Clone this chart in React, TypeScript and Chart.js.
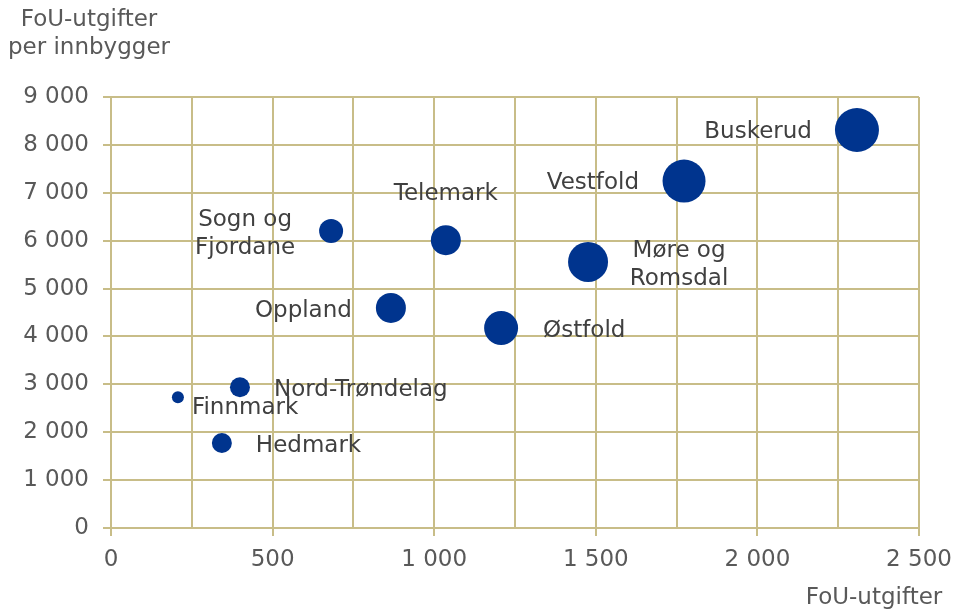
import React, { useEffect, useRef } from "react";
import { Chart, registerables } from "chart.js";

Chart.register(...registerables);

const regions = [
  "Finnmark",
  "Nord-Trøndelag",
  "Hedmark",
  "Sogn og\nFjordane",
  "Oppland",
  "Telemark",
  "Østfold",
  "Møre og\nRomsdal",
  "Vestfold",
  "Buskerud",
];
const fouUtgifter = [207, 399, 343, 681, 866, 1036, 1207, 1476, 1773, 2308];
const fouPerInnbygger = [2730, 2940, 1775, 6200, 4595, 6010, 4175, 5555, 7245, 8310];
const bubbleSize = [6, 10, 10, 12, 15, 15, 17, 20, 21.5, 22];

// label placement: align, dx, dy (pixels relative to bubble centre)
const labelPlacement: [CanvasTextAlign, number, number][] = [
  ["left", 14, 11],
  ["left", 34, 3],
  ["left", 34, 3],
  ["center", -86, 3],
  ["right", -39, 3],
  ["center", 0, -46],
  ["left", 42, 3],
  ["center", 91, 3],
  ["right", -45, 2],
  ["right", -45, 2],
];

const FONT = "'DejaVu Sans', Verdana, sans-serif";
const FS = 23;
const GRID = "#C8BD88";
const TICK_COLOR = "#595959";
const LABEL_COLOR = "#404040";
const BUBBLE = "#00348E";

const fmt = (v: number) => {
  const s = Math.round(v).toString();
  return s.replace(/\B(?=(\d{3})+(?!\d))/g, " ");
};

const labelPlugin = {
  id: "labels",
  afterDatasetsDraw(chart: any) {
    const ctx = chart.ctx;
    const meta = chart.getDatasetMeta(0);
    ctx.save();
    ctx.font = `${FS}px ${FONT}`;
    ctx.fillStyle = LABEL_COLOR;
    ctx.textBaseline = "middle";
    meta.data.forEach((el: any, i: number) => {
      const [align, dx, dy] = labelPlacement[i];
      const lines = regions[i].split("\n");
      ctx.textAlign = align;
      const lh = 28;
      const y0 = el.y + dy - ((lines.length - 1) * lh) / 2;
      lines.forEach((ln, j) => ctx.fillText(ln, el.x + dx, y0 + j * lh));
    });
    ctx.restore();
  },
  afterDraw(chart: any) {
    const ctx = chart.ctx;
    ctx.save();
    ctx.font = `${FS}px ${FONT}`;
    ctx.fillStyle = TICK_COLOR;
    ctx.textBaseline = "middle";
    ctx.textAlign = "center";
    ctx.fillText("FoU-utgifter", 89, 20);
    ctx.fillText("per innbygger", 89, 48);
    ctx.fillText("FoU-utgifter", 874, 598);
    ctx.restore();
  },
};

export default function App() {
  const ref = useRef<HTMLCanvasElement>(null);
  useEffect(() => {
    document.body.style.margin = "0";
    const chart = new Chart(ref.current!, {
      type: "bubble",
      data: {
        datasets: [
          {
            label: "Fylker",
            data: regions.map((_, i) => ({
              x: fouUtgifter[i],
              y: fouPerInnbygger[i],
              r: bubbleSize[i],
            })),
            backgroundColor: BUBBLE,
            borderColor: BUBBLE,
            borderWidth: 0,
          },
        ],
      },
      options: {
        animation: false,
        responsive: true,
        maintainAspectRatio: false,
        layout: { padding: { top: 97, right: 36, left: 0, bottom: 0 } },
        plugins: {
          legend: { display: false },
          tooltip: { enabled: false },
        },
        scales: {
          x: {
            type: "linear",
            min: 0,
            max: 2500,
            afterFit: (s: any) => {
              s.height = 81;
              s.paddingLeft = 0;
              s.paddingRight = 0;
            },
            ticks: {
              stepSize: 250,
              padding: 10,
              color: TICK_COLOR,
              font: { family: FONT, size: FS },
              maxRotation: 0,
              autoSkip: false,
              callback: (v: any) => (Number(v) % 500 === 0 ? fmt(Number(v)) : ""),
            },
            grid: {
              color: GRID,
              lineWidth: 2,
              tickLength: 8,
              tickColor: (c: any) =>
                c.tick && c.tick.value % 500 === 0 ? GRID : "rgba(0,0,0,0)",
            },
            border: { color: GRID, width: 2 },
          },
          y: {
            type: "linear",
            min: 0,
            max: 9000,
            afterFit: (s: any) => {
              s.width = 111;
              s.paddingTop = 0;
              s.paddingBottom = 0;
            },
            ticks: {
              stepSize: 1000,
              padding: 14,
              color: TICK_COLOR,
              font: { family: FONT, size: FS },
              callback: (v: any) => fmt(Number(v)),
            },
            grid: {
              color: GRID,
              lineWidth: 2,
              tickLength: 8,
              tickColor: GRID,
            },
            border: { color: GRID, width: 2 },
          },
        },
      },
      plugins: [labelPlugin],
    });
    return () => chart.destroy();
  }, []);
  return (
    <div style={{ position: "absolute", left: 0, top: 0, width: 955, height: 609 }}>
      <canvas ref={ref} />
    </div>
  );
}
